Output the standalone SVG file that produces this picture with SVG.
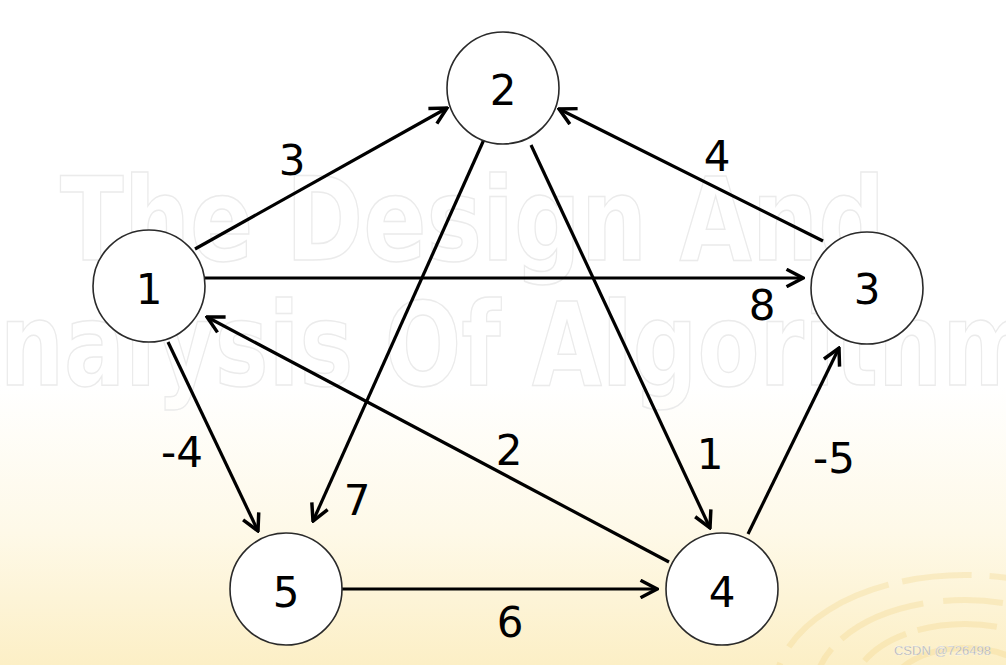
<svg xmlns="http://www.w3.org/2000/svg" width="1006" height="665" viewBox="0 0 1006 665">
  <style>
    .node circle { fill: #ffffff; stroke: #2a2a2a; stroke-width: 1.6; }
    .lbl { font-family: "DejaVu Sans", Verdana, sans-serif; font-size: 42px; fill: #000; text-anchor: middle; }
    .edge { stroke: #000; stroke-width: 3.2; fill: none; marker-end: url(#arr); }
    .wm { font-family: "DejaVu Sans", sans-serif; font-weight: bold; font-size: 115px; fill: none; stroke: #ebebeb; stroke-width: 1.5; }
    .rip { fill: none; stroke: #efd27c; stroke-width: 6; opacity: 0.28; }
  </style>
  <defs>
    <linearGradient id="bg" x1="0" y1="0" x2="0" y2="1">
      <stop offset="0" stop-color="#ffffff"/>
      <stop offset="0.58" stop-color="#ffffff"/>
      <stop offset="0.8" stop-color="#fef9e8"/>
      <stop offset="1" stop-color="#fcefc6"/>
    </linearGradient>
    <marker id="arr" viewBox="0 0 12 12" refX="11" refY="6" markerWidth="6.5" markerHeight="6.5" orient="auto" markerUnits="strokeWidth">
      <path d="M1.5,1 L11,6 L1.5,11" fill="none" stroke="#000" stroke-width="2" stroke-linejoin="miter"/>
    </marker>
  </defs>

  <rect x="0" y="0" width="1006" height="665" fill="url(#bg)"/>

  <g id="ripples">
    <ellipse class="rip" cx="965" cy="690" rx="190" ry="115" stroke-dasharray="70 18 120 14"/>
    <ellipse class="rip" cx="965" cy="690" rx="150" ry="90" stroke-dasharray="60 14 90 20"/>
    <ellipse class="rip" cx="965" cy="690" rx="112" ry="66" stroke-dasharray="50 12 80 16"/>
    <ellipse class="rip" cx="965" cy="690" rx="74" ry="42"/>
  </g>

  <g id="watermark">
    <text class="wm" x="60" y="260" textLength="825" lengthAdjust="spacingAndGlyphs">The Design And</text>
    <text class="wm" x="-70" y="385" textLength="1160" lengthAdjust="spacingAndGlyphs">Analysis Of Algorithms</text>
  </g>

  <g id="connectors">
    <line class="edge" x1="195" y1="249" x2="447" y2="108"/>
    <line class="edge" x1="204" y1="278" x2="803" y2="278"/>
    <line class="edge" x1="823" y1="241" x2="559" y2="109"/>
    <line class="edge" x1="486" y1="135" x2="313" y2="521"/>
    <line class="edge" x1="531" y1="145" x2="710" y2="528"/>
    <line class="edge" x1="669" y1="562" x2="207" y2="317"/>
    <line class="edge" x1="168" y1="342" x2="258" y2="531"/>
    <line class="edge" x1="340" y1="589" x2="657" y2="589"/>
    <line class="edge" x1="748" y1="534" x2="839" y2="348"/>
    <g id="edge-labels">
      <text class="lbl" x="292" y="175">3</text>
      <text class="lbl" x="762" y="320">8</text>
      <text class="lbl" x="717" y="171">4</text>
      <text class="lbl" x="357" y="515">7</text>
      <text class="lbl" x="710" y="469">1</text>
      <text class="lbl" x="509" y="465">2</text>
      <text class="lbl" x="182" y="467">-4</text>
      <text class="lbl" x="510" y="637">6</text>
      <text class="lbl" x="834" y="473">-5</text>
    </g>
  </g>

  <g id="node1" class="node"><circle cx="149" cy="286" r="56"/><text class="lbl" x="149" y="304">1</text></g>
  <g id="node2" class="node"><circle cx="503" cy="88" r="56"/><text class="lbl" x="503" y="105">2</text></g>
  <g id="node3" class="node"><circle cx="867" cy="288" r="56"/><text class="lbl" x="867" y="304">3</text></g>
  <g id="node4" class="node"><circle cx="722" cy="589" r="56"/><text class="lbl" x="722" y="607">4</text></g>
  <g id="node5" class="node"><circle cx="286" cy="589" r="56"/><text class="lbl" x="286" y="607">5</text></g>

  <text x="991" y="655" text-anchor="end" font-family="'Liberation Sans', Arial, sans-serif" font-size="13" fill="#a3a3a3" stroke="#ffffff" stroke-width="0.3">CSDN @726498</text>
</svg>
